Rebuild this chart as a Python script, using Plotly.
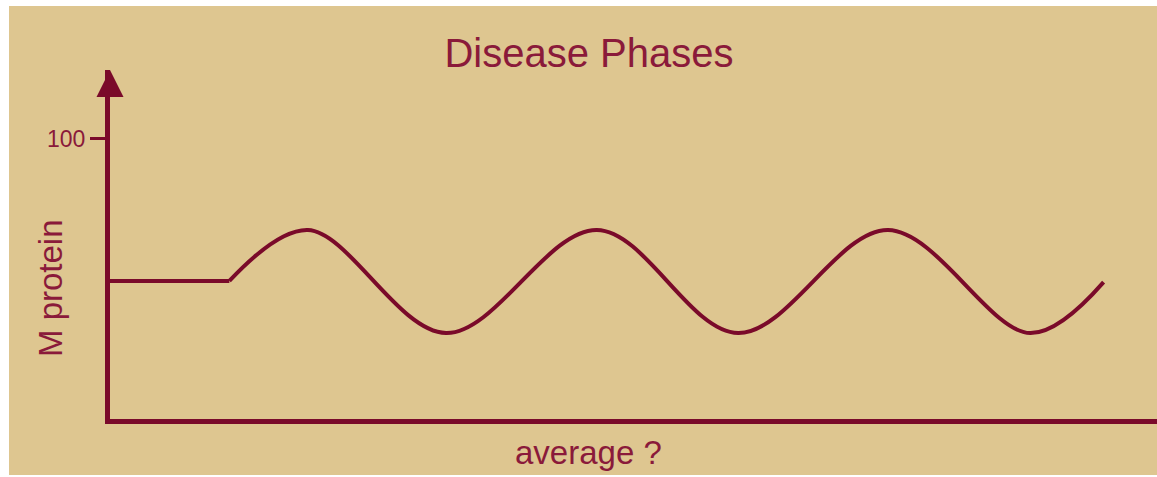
import plotly.graph_objects as go

# ---- data ----
title_text = "Disease Phases"
x_label = "average ?"
y_label = "M protein"
y_tick_vals = [100]
y_tick_text = ["100"]

# baseline (flat) phase
flat_x = [0.0, 11.4]
flat_y = [49.3, 49.3]

# oscillating phase: start, peaks / troughs, end
wave_x = [11.4, 18.9, 32.1, 46.5, 60.0, 74.3, 87.9, 94.9]
wave_y = [49.3, 67.5, 30.7, 67.5, 30.7, 67.5, 30.7, 48.9]

x_range = [0, 100]
y_range = [0, 124.64]

# ---- styling ----
BG = "#DEC690"
LINE = "#7A0A2A"
TEXT = "#8A1A3A"
FONT = "Liberation Sans, Arial, sans-serif"

W, H = 1157, 477
L, R, T, B = 110, 0, 70, 58

fig = go.Figure()
fig.add_trace(go.Scatter(x=flat_x, y=flat_y, mode="lines",
                         line=dict(color=LINE, width=4), hoverinfo="skip"))
fig.add_trace(go.Scatter(x=wave_x, y=wave_y, mode="lines",
                         line=dict(color=LINE, width=4, shape="spline", smoothing=1.0),
                         hoverinfo="skip"))
# arrow head on the y axis
fig.add_trace(go.Scatter(x=[x_range[0]], y=[y_range[1]], mode="markers",
                         marker=dict(symbol="arrow-up", size=27, color=LINE,
                                     line=dict(width=0)),
                         cliponaxis=False, hoverinfo="skip"))

fig.update_layout(
    width=W, height=H,
    margin=dict(l=L, r=R, t=T, b=B, pad=0),
    paper_bgcolor="white",
    plot_bgcolor="rgba(0,0,0,0)",
    showlegend=False,
    font=dict(family=FONT, color=TEXT),
    title=dict(text=title_text, x=589 / W, xref="container", xanchor="center",
               y=1 - 52.5 / H, yref="container", yanchor="middle",
               font=dict(size=40, color=TEXT, family=FONT)),
    shapes=[dict(type="rect", xref="paper", yref="paper", layer="below",
                 x0=(9 - L) / (W - L - R), x1=1.0,
                 y0=(H - B - 475) / (H - T - B), y1=(H - B - 6) / (H - T - B),
                 fillcolor=BG, line=dict(width=0))],
    annotations=[
        dict(text=x_label, xref="paper", yref="paper",
             x=(588 - L) / (W - L - R), y=(H - B - 452) / (H - T - B),
             xanchor="center", yanchor="middle", showarrow=False,
             font=dict(size=33, color=TEXT, family=FONT)),
        dict(text=y_label, xref="paper", yref="paper", textangle=-90,
             x=(50 - L) / (W - L - R), y=(H - B - 288) / (H - T - B),
             xanchor="center", yanchor="middle", showarrow=False,
             font=dict(size=33, color=TEXT, family=FONT)),
    ],
)
fig.update_xaxes(range=x_range, showgrid=False, zeroline=False, showticklabels=False,
                 ticks="", showline=True, linecolor=LINE, linewidth=5)
fig.update_yaxes(range=y_range, showgrid=False, zeroline=False,
                 tickmode="array", tickvals=y_tick_vals, ticktext=y_tick_text,
                 ticks="outside", ticklen=15, tickwidth=3, tickcolor=LINE,
                 tickfont=dict(size=23, color=TEXT, family=FONT),
                 showline=True, linecolor=LINE, linewidth=5)

fig.write_html("out.html", config={"displayModeBar": False},
               post_script="document.body.style.margin='0';document.body.style.overflow='hidden';")
